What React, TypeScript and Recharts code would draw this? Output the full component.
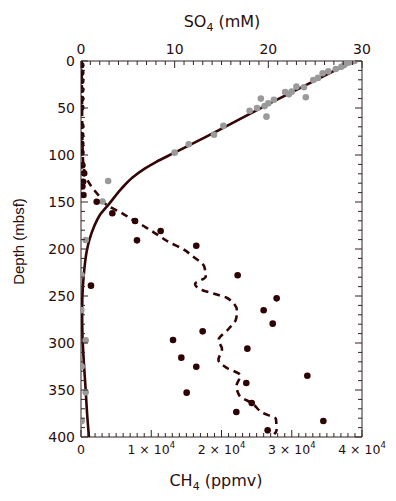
import React from 'react';
import { ScatterChart, Scatter, XAxis, YAxis } from 'recharts';

const FONT = '"DejaVu Sans", sans-serif';
const VFONT = '"Liberation Sans", Arial, sans-serif';
const INK = '#2b0d0d';
const AXIS = '#332222';
const MARK = '#2e0303';
const LINE = '#330505';
const GRAY = '#9a9a9a';

// CH4 measurements: depth (mbsf) and concentration (ppmv)
const ch4PointDepths = [4.6, 12.4, 21.3, 30.9, 40.1, 49.6, 69.1, 78.7, 87.9, 97.5, 111, 119.5, 128.4, 133.5, 142.6, 149.7, 162, 170.2, 180.9, 190.8, 196.5, 228, 239, 252.5, 265.2, 279.4, 287.6, 296.8, 306, 315.6, 325.2, 334.8, 342.6, 352.8, 363.8, 373.4, 383, 392.9];
const ch4PointValues = [30, 30, 30, 30, 30, 30, 30, 30, 30, 60, 200, 450, 300, 200, 350, 2235, 4460, 7690, 11340, 7970, 16410, 22300, 1420, 27850, 26000, 27290, 17320, 13100, 23680, 14280, 16410, 32220, 23530, 15040, 24300, 22110, 34500, 26570];

// SO4 measurements: depth (mbsf) and concentration (mM)
const so4PointDepths = [0, 0.5, 1.5, 4.3, 6.1, 8.5, 11, 13, 18, 20.2, 38.6, 28, 27.3, 32.6, 35.5, 33, 41.3, 45, 48, 40, 59.2, 50, 53, 69, 78.5, 88.6, 97.5, 127.7, 149.5, 190.4, 228, 265, 297, 325, 352.5, 383];
const so4PointValues = [29.2, 28.9, 28.6, 28.1, 27.8, 27.2, 26.4, 25.8, 25.3, 24.8, 24.0, 23.8, 23.0, 22.5, 22.2, 21.8, 20.6, 20.0, 19.6, 19.2, 19.8, 18.8, 18.0, 15.2, 14.2, 11.5, 10.0, 2.9, 2.3, 0.5, 0.07, 0.03, 0.5, 0.07, 0.5, 0.07];

// SO4 model curve (solid)
const so4CurveDepths = [0, 39.7, 84, 97.5, 107.5, 114.5, 124, 136, 152, 164, 176, 190, 203, 222, 240, 265, 290, 320, 350, 375, 400];
const so4CurveValues = [29.1, 21.2, 12.7, 10.0, 8.0, 6.8, 5.5, 4.3, 3.0, 2.0, 1.4, 0.9, 0.6, 0.35, 0.2, 0.12, 0.15, 0.3, 0.5, 0.65, 0.85];

// CH4 smoothed trend (dashed)
const ch4TrendDepths = [0, 50, 100, 118, 128.4, 142.6, 153, 162, 170.5, 176.9, 185.4, 193.3, 199.3, 208.2, 218.8, 229.4, 237.2, 243.6, 247.9, 252, 265.6, 274.5, 285.4, 296.8, 306.4, 318, 326.6, 334.4, 345.7, 356.4, 363.8, 374.5, 380.9, 393, 397];
const ch4TrendValues = [100, 150, 250, 500, 1040, 2460, 3650, 5880, 7690, 9210, 11000, 12670, 14330, 15990, 17550, 17750, 16230, 17220, 19070, 20780, 22200, 22070, 20970, 19570, 20070, 19570, 20780, 22700, 22140, 22590, 24300, 25900, 27760, 27830, 27500];

// Axis ticks
const depthMajorTicks = [0, 50, 100, 150, 200, 250, 300, 350, 400];
const so4MajorTicks = [0, 10, 20, 30];
const ch4MajorTicks = [0, 10000, 20000, 30000, 40000];
const ch4MajorLabels = ['0', '1', '2', '3', '4'];

const range = (start: number, end: number, step: number) => {
  const out: number[] = [];
  for (let v = start; v <= end + 1e-9; v += step) out.push(Math.round(v * 1000) / 1000);
  return out;
};
const depthTicks = range(0, 400, 10);
const so4Ticks = range(0, 30, 1);
const ch4Ticks = range(0, 40000, 1000);

const zip = (vals: number[], depths: number[]) => depths.map((d, i) => ({ x: vals[i], depth: d }));
const ch4Points = zip(ch4PointValues, ch4PointDepths);
const so4Points = zip(so4PointValues, so4PointDepths);
const so4Curve = zip(so4CurveValues, so4CurveDepths);
const ch4Trend = zip(ch4TrendValues, ch4TrendDepths);
const dummy = [{ x: 0, depth: 0 }];

const TopTick = (props: any) => {
  const { x, y, payload } = props;
  const v = payload.value;
  const major = so4MajorTicks.includes(v);
  return (
    <g>
      <line x1={x} x2={x} y1={y} y2={y + (major ? 7 : 4)} stroke={AXIS} strokeWidth={1} />
      {major && (
        <text x={x} y={y - 7} textAnchor="middle" fontSize={14} fontFamily={FONT} fill={INK}>
          {v}
        </text>
      )}
    </g>
  );
};

const BottomTick = (props: any) => {
  const { x, y, payload } = props;
  const v = payload.value;
  const idx = ch4MajorTicks.indexOf(v);
  const major = idx >= 0;
  return (
    <g>
      <line x1={x} x2={x} y1={y} y2={y - (major ? 7 : 4)} stroke={AXIS} strokeWidth={1} />
      {major && idx === 0 && (
        <text x={x} y={y + 16.5} textAnchor="middle" fontSize={12.5} fontFamily={FONT} fill={INK}>
          0
        </text>
      )}
      {major && idx > 0 && (
        <text x={x} y={y + 16.5} textAnchor="middle" fontSize={12.5} fontFamily={FONT} fill={INK}>
          <tspan>{ch4MajorLabels[idx] + ' \u00d7 10'}</tspan>
          <tspan dy={-6} fontSize={8.5}>4</tspan>
        </text>
      )}
    </g>
  );
};

const LeftTick = (props: any) => {
  const { x, y, payload } = props;
  const v = payload.value;
  const major = depthMajorTicks.includes(v);
  return (
    <g>
      <line x1={x} x2={x + (major ? 7 : 4)} y1={y} y2={y} stroke={AXIS} strokeWidth={1} />
      {major && (
        <text x={x - 6} y={y + 5} textAnchor="end" fontSize={14} fontFamily={FONT} fill={INK}>
          {v}
        </text>
      )}
    </g>
  );
};

const RightTick = (props: any) => {
  const { x, y, payload } = props;
  const v = payload.value;
  const major = depthMajorTicks.includes(v);
  return <line x1={x} x2={x - (major ? 7 : 4)} y1={y} y2={y} stroke={AXIS} strokeWidth={1} />;
};

const grayDot = (p: any) => <circle cx={p.cx} cy={p.cy} r={3.3} fill={GRAY} />;
const darkDot = (p: any) => <circle cx={p.cx} cy={p.cy} r={3.3} fill={MARK} />;
const noDot = () => <g />;

export default function App() {
  return (
    <div style={{ position: 'absolute', left: 0, top: 0, width: 396, height: 501, background: '#fff' }}>
      <ScatterChart width={396} height={501} margin={{ top: 31, right: 4, bottom: 34, left: 41 }}>
        <XAxis
          xAxisId="so4"
          orientation="top"
          type="number"
          dataKey="x"
          domain={[0, 30]}
          ticks={so4Ticks}
          interval={0}
          height={30}
          tickSize={0}
          tickMargin={0}
          tickLine={false}
          axisLine={{ stroke: AXIS, strokeWidth: 1 }}
          tick={(p: any) => <TopTick {...p} />}
          allowDataOverflow
        />
        <XAxis
          xAxisId="ch4"
          orientation="bottom"
          type="number"
          dataKey="x"
          domain={[0, 40000]}
          ticks={ch4Ticks}
          interval={0}
          height={30}
          tickSize={0}
          tickMargin={0}
          tickLine={false}
          axisLine={{ stroke: AXIS, strokeWidth: 1 }}
          tick={(p: any) => <BottomTick {...p} />}
          allowDataOverflow
        />
        <YAxis
          yAxisId="left"
          orientation="left"
          type="number"
          dataKey="depth"
          domain={[0, 400]}
          reversed
          ticks={depthTicks}
          interval={0}
          width={40}
          tickSize={0}
          tickMargin={0}
          tickLine={false}
          axisLine={{ stroke: AXIS, strokeWidth: 1 }}
          tick={(p: any) => <LeftTick {...p} />}
          allowDataOverflow
        />
        <YAxis
          yAxisId="right"
          orientation="right"
          type="number"
          dataKey="depth"
          domain={[0, 400]}
          reversed
          ticks={depthTicks}
          interval={0}
          width={30}
          tickSize={0}
          tickMargin={0}
          tickLine={false}
          axisLine={{ stroke: AXIS, strokeWidth: 1 }}
          tick={(p: any) => <RightTick {...p} />}
          allowDataOverflow
        />
        <Scatter
          data={so4Curve}
          xAxisId="so4"
          yAxisId="left"
          fill={LINE}
          line={{ stroke: LINE, strokeWidth: 2.6 }}
          lineType="joint"
          lineJointType="monotoneY"
          shape={noDot}
          isAnimationActive={false}
        />
        <Scatter
          data={ch4Trend}
          xAxisId="ch4"
          yAxisId="left"
          fill={LINE}
          line={{ stroke: LINE, strokeWidth: 2.6, strokeDasharray: '7 5' }}
          lineType="joint"
          lineJointType="monotoneY"
          shape={noDot}
          isAnimationActive={false}
        />
        <Scatter data={so4Points} xAxisId="so4" yAxisId="left" fill={GRAY} shape={grayDot} isAnimationActive={false} />
        <Scatter data={ch4Points} xAxisId="ch4" yAxisId="left" fill={MARK} shape={darkDot} isAnimationActive={false} />
        <Scatter data={dummy} xAxisId="ch4" yAxisId="right" fill="none" shape={noDot} isAnimationActive={false} />
      </ScatterChart>
      <svg width={396} height={501} style={{ position: 'absolute', left: 0, top: 0, pointerEvents: 'none' }}>
        <text x={222} y={26.5} textAnchor="middle" fontSize={16} fontFamily={FONT} fill={INK}>
          <tspan>SO</tspan>
          <tspan dy={4} fontSize={11}>4</tspan>
          <tspan dy={-4}> (mM)</tspan>
        </text>
        <text x={216} y={486} textAnchor="middle" fontSize={16} fontFamily={FONT} fill={INK}>
          <tspan>CH</tspan>
          <tspan dy={4} fontSize={11}>4</tspan>
          <tspan dy={-4}> (ppmv)</tspan>
        </text>
        <text
          x={23.5}
          y={241.5}
          transform="rotate(-90 23.5 241.5)"
          textAnchor="middle"
          fontSize={15}
          fontFamily={VFONT}
          fill={INK}
        >
          Depth (mbsf)
        </text>
      </svg>
    </div>
  );
}
